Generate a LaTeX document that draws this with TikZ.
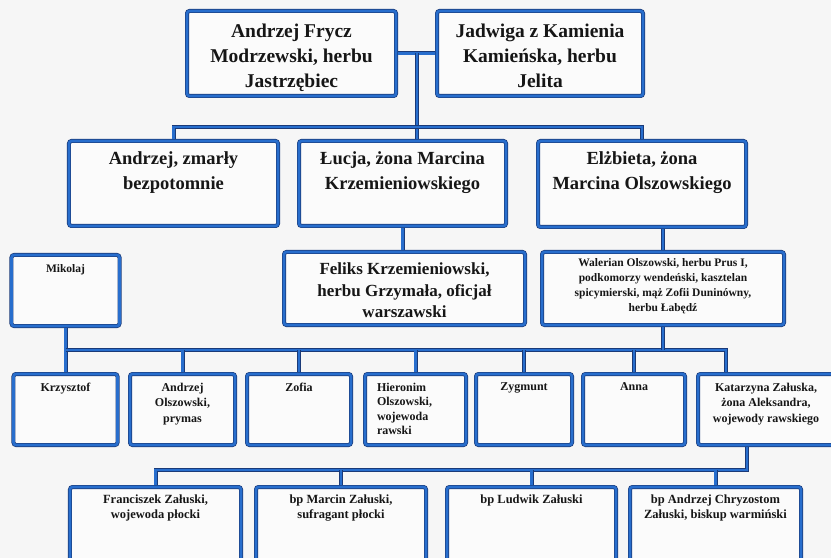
\documentclass[tikz,border=0pt]{standalone}
\usepackage{fontspec}
\setmainfont{Liberation Serif}[BoldFont={Liberation Serif Bold}]
\definecolor{bblue}{RGB}{40,110,205}
\definecolor{bdark}{RGB}{26,58,120}
\definecolor{bg}{RGB}{246,246,246}
\definecolor{bfill}{RGB}{251,251,251}
\definecolor{txt}{RGB}{22,22,22}
\newcommand\bxt[6]{\parbox[c][#2][t]{#1}{\rmfamily\fontsize{#4}{#5}\selectfont\bfseries\color{txt}\centering\vspace*{#3}#6\par}}
\newcommand\bxl[7]{\parbox[c][#2][t]{#1}{\rmfamily\fontsize{#4}{#5}\selectfont\bfseries\color{txt}\raggedright\leftskip=#6\vspace*{#3}#7\par}}
\begin{document}
\begin{tikzpicture}[x=1bp,y=-1bp,
  box/.style={draw=bdark, line width=4bp, preaction={fill=bfill},
    postaction={draw=bblue, line width=2.6bp}, rounded corners=2.5bp, inner sep=0pt},
  conn/.style={draw=bdark, line width=4bp, postaction={draw=bblue, line width=2.6bp}}]
\useasboundingbox (0,0) rectangle (831,558);
\fill[bg] (0,0) rectangle (831,558);
\clip (0,0) rectangle (831,558);
% generation 1
\node[box] (F1) at (291.5,53.5) {\bxt{209bp}{85bp}{13bp}{19.5bp}{25bp}{Andrzej Frycz\\Modrzewski, herbu\\Jastrzębiec}};
\node[box] (F2) at (540,53.5) {\bxt{206bp}{85bp}{13bp}{19.5bp}{25bp}{Jadwiga z Kamienia\\Kamieńska, herbu\\Jelita}};
% generation 2
\node[box] (R2a) at (173.5,183.5) {\bxt{209bp}{85bp}{11bp}{18.5bp}{25bp}{Andrzej, zmarły\\bezpotomnie}};
\node[box] (R2b) at (402.5,183.5) {\bxt{207bp}{85bp}{11bp}{18.5bp}{25bp}{Łucja, żona Marcina\\Krzemieniowskiego}};
\node[box] (R2c) at (642,184) {\bxt{208bp}{86bp}{11bp}{18.5bp}{25bp}{Elżbieta, żona\\Marcina Olszowskiego}};
% generation 3
\node[box] (Mik) at (65.5,290.5) {\bxt{108bp}{71bp}{10bp}{11.5bp}{14bp}{Mikolaj}};
\node[box] (Fel) at (404.5,288.5) {\bxt{241bp}{73bp}{11bp}{17bp}{21.5bp}{Feliks Krzemieniowski,\\herbu Grzymała, oficjał\\warszawski}};
\node[box] (Wal) at (663,288.5) {\bxt{242bp}{73bp}{7bp}{11.5bp}{14.8bp}{Walerian Olszowski, herbu Prus I,\\podkomorzy wendeński, kasztelan\\spicymierski, mąż Zofii Duninówny,\\herbu Łabędź}};
% generation 4
\node[box] (Krz) at (65.5,409.5) {\bxt{104bp}{71bp}{9bp}{12bp}{15.5bp}{Krzysztof}};
\node[box] (AOl) at (182.5,409.5) {\bxt{105bp}{71bp}{9bp}{12bp}{15.5bp}{Andrzej\\Olszowski,\\prymas}};
\node[box] (Zof) at (299,409.5) {\bxt{104bp}{71bp}{9bp}{12bp}{15.5bp}{Zofia}};
\node[box] (Hie) at (415.5,409.5) {\bxl{101bp}{71bp}{9bp}{12bp}{14.5bp}{12bp}{Hieronim\\Olszowski,\\wojewoda\\rawski}};
\node[box] (Zyg) at (524,409.5) {\bxt{96bp}{71bp}{9bp}{12bp}{15.5bp}{Zygmunt}};
\node[box] (Ann) at (634,409.5) {\bxt{102bp}{71bp}{9bp}{12bp}{15.5bp}{Anna}};
\node[box] (Kat) at (766,409.5) {\bxt{136bp}{71bp}{9bp}{12bp}{15.5bp}{Katarzyna Załuska,\\żona Aleksandra,\\wojewody rawskiego}};
% generation 5
\node[box] (Fra) at (155.5,531) {\bxt{171bp}{88bp}{8bp}{12.5bp}{15bp}{Franciszek Załuski,\\wojewoda płocki}};
\node[box] (Mar) at (341,531) {\bxt{170bp}{88bp}{8bp}{12.5bp}{15bp}{bp Marcin Załuski,\\sufragant płocki}};
\node[box] (Lud) at (531.5,531) {\bxt{169bp}{88bp}{8bp}{12.5bp}{15bp}{bp Ludwik Załuski}};
\node[box] (Chr) at (715.5,531) {\bxt{171bp}{88bp}{8bp}{12.5bp}{15bp}{bp Andrzej Chryzostom\\Załuski, biskup warmiński}};
% connectors
\coordinate (j0) at (417,53.5);
\coordinate (j1) at (417,127);
\coordinate (b1) at (0,350);
\coordinate (b2) at (0,470);
\coordinate (kt) at ([xshift=-40bp]Kat.north);
\coordinate (ks) at ([xshift=-19bp]Kat.south);
\draw[conn] (F1.east) -- (F2.west);
\draw[conn] (j0) -- (R2b.north -| j0);
\draw[conn] (R2a.north) |- (j1) -| (R2c.north);
\draw[conn] (R2b.south) -- (R2b.south |- Fel.north);
\draw[conn] (Wal.north) -- (Wal.north |- R2c.south);
\draw[conn] (Mik.south) -- (Krz.north);
\draw[conn] (Krz.north |- b1) -- (kt |- b1) -- (kt);
\draw[conn] (Wal.south) -- (Wal.south |- b1);
\foreach \n in {AOl,Zof,Hie,Zyg,Ann}{\draw[conn] (\n.north) -- (\n.north |- b1);}
\draw[conn] (ks) -- (ks |- b2) -- (Fra.north |- b2) -- (Fra.north);
\foreach \n in {Mar,Lud,Chr}{\draw[conn] (\n.north) -- (\n.north |- b2);}
\end{tikzpicture}
\end{document}
